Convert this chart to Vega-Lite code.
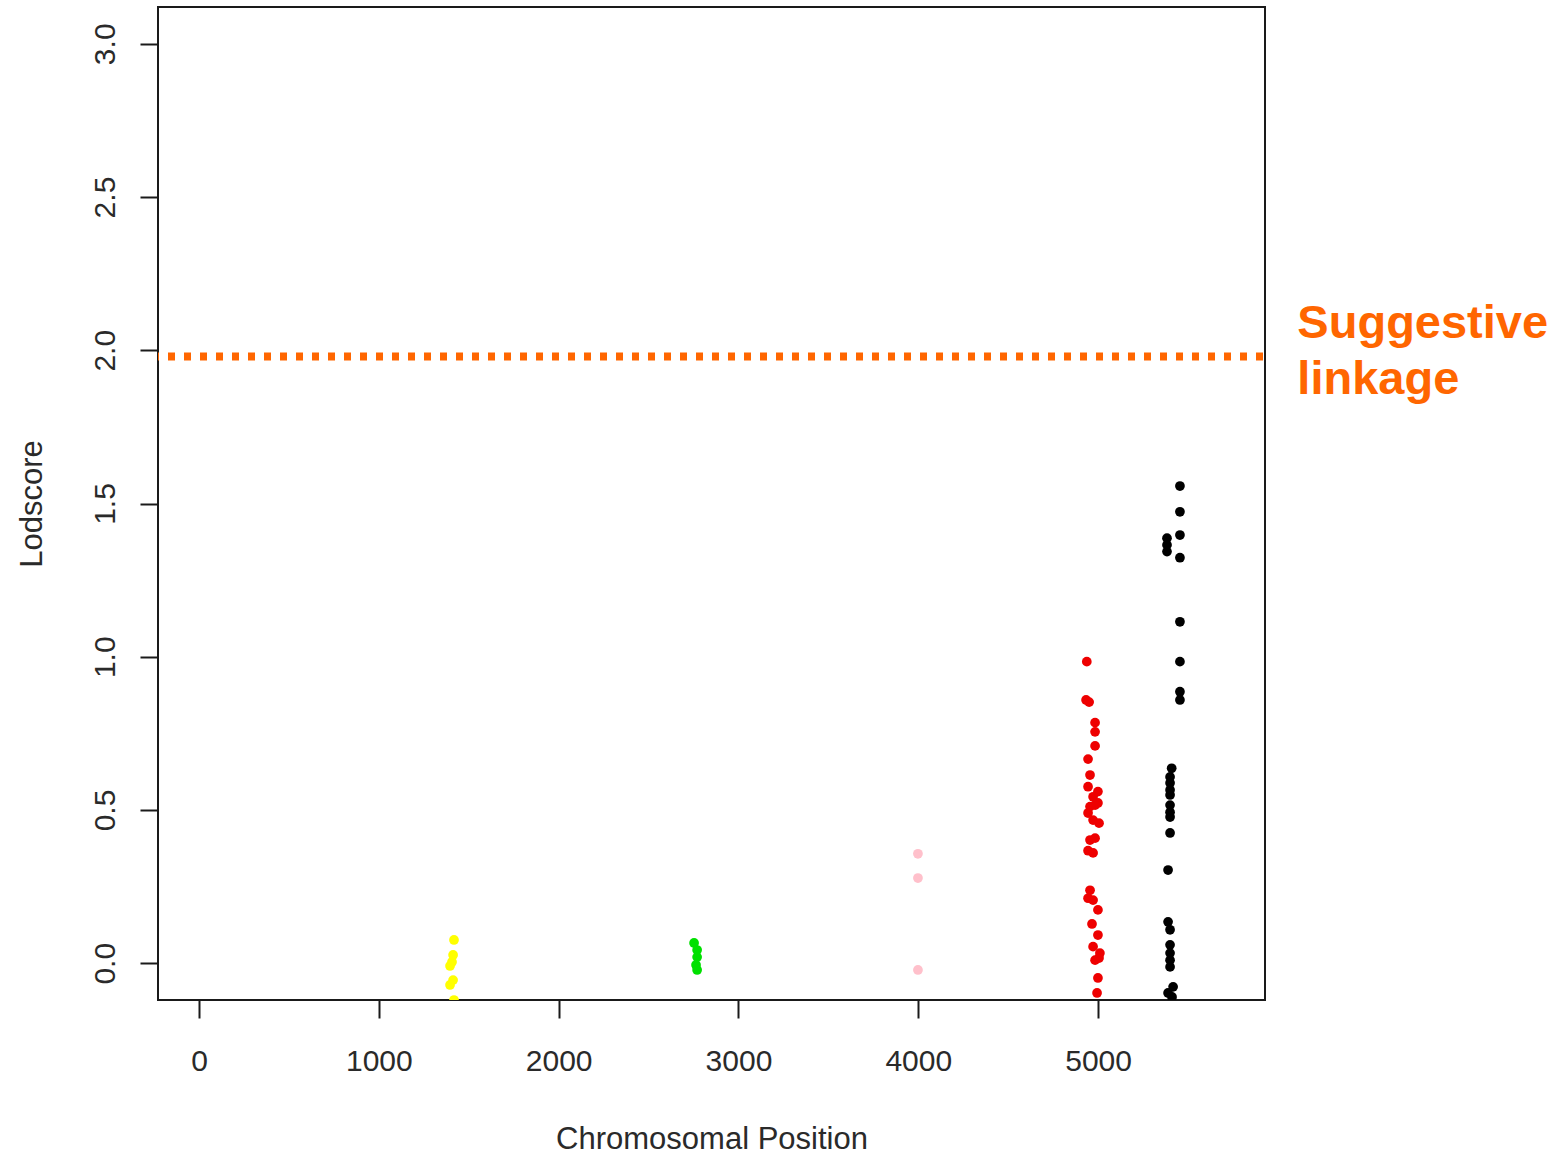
{
  "$schema": "https://vega.github.io/schema/vega-lite/v6.json",
  "width": 1107,
  "height": 993,
  "autosize": "none",
  "padding": {"left": 158, "top": 7, "right": 303, "bottom": 154},
  "background": "white",
  "config": {
    "view": {"stroke": "#1a1a1a", "strokeWidth": 2},
    "font": "Liberation Sans"
  },
  "datasets": {
    "pts": [
      {"pos": 1418, "lod": 0.076, "group": "yellow"},
      {"pos": 1413, "lod": 0.027, "group": "yellow"},
      {"pos": 1407, "lod": 0.004, "group": "yellow"},
      {"pos": 1396, "lod": -0.009, "group": "yellow"},
      {"pos": 1413, "lod": -0.055, "group": "yellow"},
      {"pos": 1396, "lod": -0.071, "group": "yellow"},
      {"pos": 1418, "lod": -0.12, "group": "yellow"},
      {"pos": 2753, "lod": 0.066, "group": "green"},
      {"pos": 2770, "lod": 0.043, "group": "green"},
      {"pos": 2770, "lod": 0.02, "group": "green"},
      {"pos": 2764, "lod": -0.006, "group": "green"},
      {"pos": 2770, "lod": -0.022, "group": "green"},
      {"pos": 3998, "lod": 0.357, "group": "pink"},
      {"pos": 3998, "lod": 0.278, "group": "pink"},
      {"pos": 3998, "lod": -0.022, "group": "pink"},
      {"pos": 4937, "lod": 0.984, "group": "red"},
      {"pos": 4933, "lod": 0.859, "group": "red"},
      {"pos": 4950, "lod": 0.852, "group": "red"},
      {"pos": 4983, "lod": 0.785, "group": "red"},
      {"pos": 4983, "lod": 0.755, "group": "red"},
      {"pos": 4983, "lod": 0.709, "group": "red"},
      {"pos": 4944, "lod": 0.666, "group": "red"},
      {"pos": 4955, "lod": 0.614, "group": "red"},
      {"pos": 4944, "lod": 0.576, "group": "red"},
      {"pos": 4999, "lod": 0.56, "group": "red"},
      {"pos": 4972, "lod": 0.543, "group": "red"},
      {"pos": 4999, "lod": 0.523, "group": "red"},
      {"pos": 4955, "lod": 0.511, "group": "red"},
      {"pos": 4983, "lod": 0.516, "group": "red"},
      {"pos": 4944, "lod": 0.49, "group": "red"},
      {"pos": 4972, "lod": 0.467, "group": "red"},
      {"pos": 5005, "lod": 0.457, "group": "red"},
      {"pos": 4983, "lod": 0.408, "group": "red"},
      {"pos": 4955, "lod": 0.402, "group": "red"},
      {"pos": 4944, "lod": 0.367, "group": "red"},
      {"pos": 4972, "lod": 0.36, "group": "red"},
      {"pos": 4955, "lod": 0.238, "group": "red"},
      {"pos": 4944, "lod": 0.212, "group": "red"},
      {"pos": 4972, "lod": 0.206, "group": "red"},
      {"pos": 4999, "lod": 0.174, "group": "red"},
      {"pos": 4966, "lod": 0.128, "group": "red"},
      {"pos": 4999, "lod": 0.092, "group": "red"},
      {"pos": 4972, "lod": 0.054, "group": "red"},
      {"pos": 5010, "lod": 0.033, "group": "red"},
      {"pos": 4983, "lod": 0.01, "group": "red"},
      {"pos": 5005, "lod": 0.017, "group": "red"},
      {"pos": 4999, "lod": -0.048, "group": "red"},
      {"pos": 4994, "lod": -0.097, "group": "red"},
      {"pos": 5455, "lod": 1.557, "group": "black"},
      {"pos": 5455, "lod": 1.473, "group": "black"},
      {"pos": 5455, "lod": 1.397, "group": "black"},
      {"pos": 5383, "lod": 1.387, "group": "black"},
      {"pos": 5383, "lod": 1.365, "group": "black"},
      {"pos": 5383, "lod": 1.343, "group": "black"},
      {"pos": 5455, "lod": 1.323, "group": "black"},
      {"pos": 5455, "lod": 1.114, "group": "black"},
      {"pos": 5455, "lod": 0.984, "group": "black"},
      {"pos": 5455, "lod": 0.886, "group": "black"},
      {"pos": 5455, "lod": 0.859, "group": "black"},
      {"pos": 5409, "lod": 0.636, "group": "black"},
      {"pos": 5400, "lod": 0.608, "group": "black"},
      {"pos": 5400, "lod": 0.588, "group": "black"},
      {"pos": 5400, "lod": 0.565, "group": "black"},
      {"pos": 5400, "lod": 0.549, "group": "black"},
      {"pos": 5400, "lod": 0.516, "group": "black"},
      {"pos": 5400, "lod": 0.493, "group": "black"},
      {"pos": 5400, "lod": 0.477, "group": "black"},
      {"pos": 5400, "lod": 0.425, "group": "black"},
      {"pos": 5389, "lod": 0.304, "group": "black"},
      {"pos": 5389, "lod": 0.135, "group": "black"},
      {"pos": 5400, "lod": 0.109, "group": "black"},
      {"pos": 5400, "lod": 0.06, "group": "black"},
      {"pos": 5400, "lod": 0.033, "group": "black"},
      {"pos": 5400, "lod": 0.01, "group": "black"},
      {"pos": 5400, "lod": -0.012, "group": "black"},
      {"pos": 5417, "lod": -0.077, "group": "black"},
      {"pos": 5389, "lod": -0.097, "group": "black"},
      {"pos": 5411, "lod": -0.11, "group": "black"}
    ],
    "thr": [{"lod": 1.98}],
    "lbl": [{"pos": 6108, "lod": 2.04, "text": ["Suggestive", "linkage"]}]
  },
  "layer": [
    {
      "data": {"name": "thr"},
      "mark": {"type": "rule", "color": "#FF6600", "strokeWidth": 8, "strokeDash": [7, 9], "strokeDashOffset": -2, "strokeCap": "butt"},
      "encoding": {
        "y": {"field": "lod", "type": "quantitative", "scale": {"domain": [-0.12, 3.12], "nice": false, "zero": false}}
      }
    },
    {
      "data": {"name": "pts"},
      "mark": {"type": "circle", "size": 95, "opacity": 1, "clip": true},
      "encoding": {
        "x": {
          "field": "pos", "type": "quantitative",
          "scale": {"domain": [-228, 5928], "nice": false, "zero": false},
          "axis": {
            "title": "Chromosomal Position",
            "values": [0, 1000, 2000, 3000, 4000, 5000],
            "format": "d",
            "grid": false, "domain": false,
            "tickSize": 18, "tickWidth": 2, "tickColor": "#1a1a1a",
            "labelFont": "Liberation Sans", "labelFontSize": 30, "labelColor": "#2a2a2a",
            "labelPadding": 28, "labelFlush": false,
            "titleFont": "Liberation Sans", "titleFontSize": 31, "titleFontWeight": "normal", "titleColor": "#2a2a2a",
            "titlePadding": 48
          }
        },
        "y": {
          "field": "lod", "type": "quantitative",
          "scale": {"domain": [-0.12, 3.12], "nice": false, "zero": false},
          "axis": {
            "title": "Lodscore",
            "values": [0, 0.5, 1, 1.5, 2, 2.5, 3],
            "format": ".1f",
            "grid": false, "domain": false,
            "tickSize": 18, "tickWidth": 2, "tickColor": "#1a1a1a",
            "labelFont": "Liberation Sans", "labelFontSize": 30, "labelColor": "#2a2a2a",
            "labelAngle": 270, "labelAlign": "center", "labelBaseline": "bottom",
            "labelPadding": 20, "labelFlush": false,
            "titleFont": "Liberation Sans", "titleFontSize": 31, "titleFontWeight": "normal", "titleColor": "#2a2a2a",
            "titlePadding": 42
          }
        },
        "color": {
          "field": "group", "type": "nominal",
          "scale": {"domain": ["yellow", "green", "pink", "red", "black"], "range": ["#FFFF00", "#00E000", "#FFC0CB", "#EE0000", "#000000"]},
          "legend": null
        }
      }
    },
    {
      "data": {"name": "lbl"},
      "mark": {"type": "text", "align": "left", "baseline": "alphabetic", "font": "Liberation Sans", "fontWeight": "bold", "fontSize": 47, "lineHeight": 56, "color": "#FF6600"},
      "encoding": {
        "x": {"field": "pos", "type": "quantitative"},
        "y": {"field": "lod", "type": "quantitative"},
        "text": {"field": "text"}
      }
    }
  ]
}
